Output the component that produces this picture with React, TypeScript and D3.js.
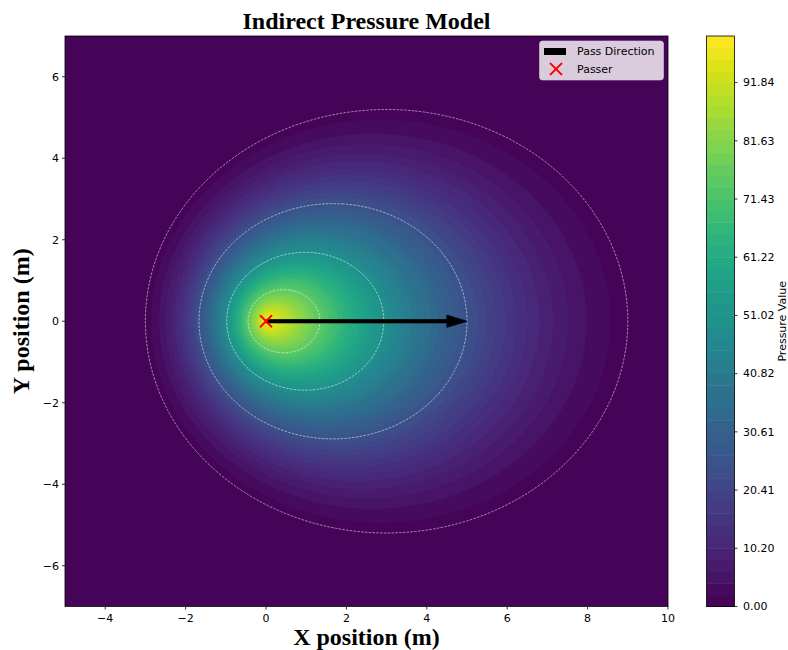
import React, { useMemo } from 'react';
import * as d3 from 'd3';

// ---- axes / ticks ----
const xDomain = [-5, 10];
const yDomain = [-7, 7];
const xTicks = [-4, -2, 0, 2, 4, 6, 8, 10];
const yTicks = [-6, -4, -2, 0, 2, 4, 6];

// ---- pressure model ----
const passer = [0, 0];
const passVector = [4.5, 0]; // arrow shaft (matplotlib dx, dy)
const arrowHeadLength = [0.5];
const arrowHeadWidth = [0.3];
const arrowWidth = [0.08];
const pressurePeak = [100];
const pressureReach = [10];
const pressureEccentricity = [0.5];
const pressureSemiLatus = [0.5];

// ---- levels ----
const levelCount = 50;
const fillLevels = d3.range(levelCount).map((i) => (i * pressurePeak[0]) / (levelCount - 1));
const contourLevels = [1, 25, 50, 75];
const colorbarTickValues = [0, 10.204, 20.408, 30.612, 40.816, 51.02, 61.224, 71.429, 81.633, 91.837];
const colorbarTickLabels = ['0.00', '10.20', '20.41', '30.61', '40.82', '51.02', '61.22', '71.43', '81.63', '91.84'];

const legendLabels = ['Pass Direction', 'Passer'];

const W = 788;
const H = 650;
const plot = { left: 65, right: 668, top: 36, bottom: 606.5 };
const cbar = { left: 706.5, right: 734.5, top: 36, bottom: 606.5 };

const sans = "'DejaVu Sans', sans-serif";
const serif = "'Liberation Serif', 'Times New Roman', serif";

function pressure(x: number, y: number): number {
  const dx = x - passer[0];
  const dy = y - passer[1];
  const len = Math.hypot(passVector[0], passVector[1]);
  const ux = passVector[0] / len;
  const uy = passVector[1] / len;
  const r = Math.hypot(dx, dy);
  const proj = dx * ux + dy * uy;
  const c = (r - pressureEccentricity[0] * proj) / pressureSemiLatus[0];
  const t = Math.max(0, 1 - c / pressureReach[0]);
  return pressurePeak[0] * t * t;
}

function bandColor(k: number) {
  return d3.interpolateViridis((k + 0.5) / (levelCount - 1));
}

export default function App() {
  const xScale = d3.scaleLinear().domain(xDomain).range([plot.left, plot.right]);
  const yScale = d3.scaleLinear().domain(yDomain).range([plot.bottom, plot.top]);
  const cScale = d3.scaleLinear().domain([0, pressurePeak[0]]).range([cbar.bottom, cbar.top]);

  const { fills, lines } = useMemo(() => {
    const step = 0.04;
    const nx = Math.round((xDomain[1] - xDomain[0]) / step) + 1;
    const ny = Math.round((yDomain[1] - yDomain[0]) / step) + 1;
    const values = new Float64Array(nx * ny);
    for (let j = 0; j < ny; j++) {
      const y = yDomain[0] + j * step;
      for (let i = 0; i < nx; i++) {
        values[j * nx + i] = pressure(xDomain[0] + i * step, y);
      }
    }
    const gen = d3.contours().size([nx, ny]);
    const proj = d3.geoTransform({
      point(x: number, y: number) {
        (this as any).stream.point(
          xScale(xDomain[0] + (x - 0.5) * step),
          yScale(yDomain[0] + (y - 0.5) * step)
        );
      },
    });
    const path = d3.geoPath(proj as any);
    const fills = fillLevels.slice(1, levelCount - 1).map((lv, idx) => ({
      d: path(gen.contour(values as any, lv) as any) || '',
      color: bandColor(idx + 1),
    }));
    const lines = contourLevels.map((lv) => path(gen.contour(values as any, lv) as any) || '');
    return { fills, lines };
  }, []);

  // arrow polygon (matplotlib FancyArrow, length_includes_head=False)
  const L = Math.hypot(passVector[0], passVector[1]) + arrowHeadLength[0];
  const ux = passVector[0] / Math.hypot(passVector[0], passVector[1]);
  const uy = passVector[1] / Math.hypot(passVector[0], passVector[1]);
  const local: [number, number][] = [
    [0, arrowWidth[0] / 2],
    [L - arrowHeadLength[0], arrowWidth[0] / 2],
    [L - arrowHeadLength[0], arrowHeadWidth[0] / 2],
    [L, 0],
    [L - arrowHeadLength[0], -arrowHeadWidth[0] / 2],
    [L - arrowHeadLength[0], -arrowWidth[0] / 2],
    [0, -arrowWidth[0] / 2],
  ];
  const arrowPts = local
    .map(([a, b]) => {
      const x = passer[0] + a * ux - b * uy;
      const y = passer[1] + a * uy + b * ux;
      return `${xScale(x)},${yScale(y)}`;
    })
    .join(' ');

  const px = xScale(passer[0]);
  const py = yScale(passer[1]);
  const mk = 6;

  const bands = d3.range(levelCount - 1);

  return (
    <svg
      width={W}
      height={H}
      style={{ position: 'absolute', left: 0, top: 0, background: '#fff' }}
      xmlns="http://www.w3.org/2000/svg"
    >
      <defs>
        <clipPath id="plotClip">
          <rect x={plot.left} y={plot.top} width={plot.right - plot.left} height={plot.bottom - plot.top} />
        </clipPath>
      </defs>

      {/* title */}
      <text x={(plot.left + plot.right) / 2} y={28.5} textAnchor="middle" fontFamily={serif} fontWeight="bold" fontSize={24}>
        Indirect Pressure Model
      </text>

      {/* filled contours */}
      <g clipPath="url(#plotClip)">
        <rect x={plot.left} y={plot.top} width={plot.right - plot.left} height={plot.bottom - plot.top} fill={bandColor(0)} />
        {fills.map((f, i) => (
          <path key={i} d={f.d} fill={f.color} stroke="none" />
        ))}
        {lines.map((d, i) => (
          <path key={'l' + i} d={d} fill="none" stroke="#ffffff" strokeOpacity={0.65} strokeWidth={0.8} strokeDasharray="2.6,1.2" />
        ))}
        <polygon points={arrowPts} fill="#000" stroke="#000" strokeWidth={0.8} strokeLinejoin="miter" />
        <g stroke="#ff0000" strokeWidth={1.8}>
          <line x1={px - mk} y1={py - mk} x2={px + mk} y2={py + mk} />
          <line x1={px - mk} y1={py + mk} x2={px + mk} y2={py - mk} />
        </g>
      </g>

      {/* axes frame */}
      <rect x={plot.left} y={plot.top} width={plot.right - plot.left} height={plot.bottom - plot.top} fill="none" stroke="#000" strokeWidth={0.8} />

      {/* x ticks */}
      {xTicks.map((t) => (
        <g key={'x' + t}>
          <line x1={xScale(t)} x2={xScale(t)} y1={plot.bottom} y2={plot.bottom + 3} stroke="#000" strokeWidth={0.8} />
          <text x={xScale(t)} y={plot.bottom + 15.5} textAnchor="middle" fontFamily={sans} fontSize={11} fill="#000">
            {t < 0 ? '\u2212' + Math.abs(t) : String(t)}
          </text>
        </g>
      ))}
      {/* y ticks */}
      {yTicks.map((t) => (
        <g key={'y' + t}>
          <line x1={plot.left - 3} x2={plot.left} y1={yScale(t)} y2={yScale(t)} stroke="#000" strokeWidth={0.8} />
          <text x={plot.left - 6} y={yScale(t)} dy="0.35em" textAnchor="end" fontFamily={sans} fontSize={11} fill="#000">
            {t < 0 ? '\u2212' + Math.abs(t) : String(t)}
          </text>
        </g>
      ))}

      {/* axis labels */}
      <text x={(plot.left + plot.right) / 2} y={645} textAnchor="middle" fontFamily={serif} fontWeight="bold" fontSize={24}>
        X position (m)
      </text>
      <text transform={`translate(29,${(plot.top + plot.bottom) / 2}) rotate(-90)`} textAnchor="middle" fontFamily={serif} fontWeight="bold" fontSize={24}>
        Y position (m)
      </text>

      {/* legend */}
      <g>
        <rect x={539.5} y={41} width={124} height={39} rx={3} ry={3} fill="#ffffff" fillOpacity={0.8} stroke="#cccccc" strokeOpacity={0.8} strokeWidth={0.8} />
        <rect x={544} y={48} width={22} height={7} fill="#000" />
        <text x={577} y={55} fontFamily={sans} fontSize={11} fill="#000">{legendLabels[0]}</text>
        <g stroke="#ff0000" strokeWidth={1.8}>
          <line x1={556 - mk} y1={69 - mk} x2={556 + mk} y2={69 + mk} />
          <line x1={556 - mk} y1={69 + mk} x2={556 + mk} y2={69 - mk} />
        </g>
        <text x={577} y={73} fontFamily={sans} fontSize={11} fill="#000">{legendLabels[1]}</text>
      </g>

      {/* colorbar */}
      <g>
        {bands.map((k) => (
          <rect
            key={'cb' + k}
            x={cbar.left}
            width={cbar.right - cbar.left}
            y={cScale(fillLevels[k + 1])}
            height={cScale(fillLevels[k]) - cScale(fillLevels[k + 1]) + 0.5}
            fill={bandColor(k)}
          />
        ))}
        <rect x={cbar.left} y={cbar.top} width={cbar.right - cbar.left} height={cbar.bottom - cbar.top} fill="none" stroke="#000" strokeWidth={0.8} />
        {colorbarTickValues.map((v, i) => (
          <g key={'ct' + i}>
            <line x1={cbar.right} x2={cbar.right + 3} y1={cScale(v)} y2={cScale(v)} stroke="#000" strokeWidth={0.8} />
            <text x={cbar.right + 8.5} y={cScale(v)} dy="0.35em" fontFamily={sans} fontSize={11} fill="#000">
              {colorbarTickLabels[i]}
            </text>
          </g>
        ))}
        <text transform={`translate(786,${(cbar.top + cbar.bottom) / 2}) rotate(-90)`} textAnchor="middle" fontFamily={sans} fontSize={11} fill="#000">
          Pressure Value
        </text>
      </g>
    </svg>
  );
}
